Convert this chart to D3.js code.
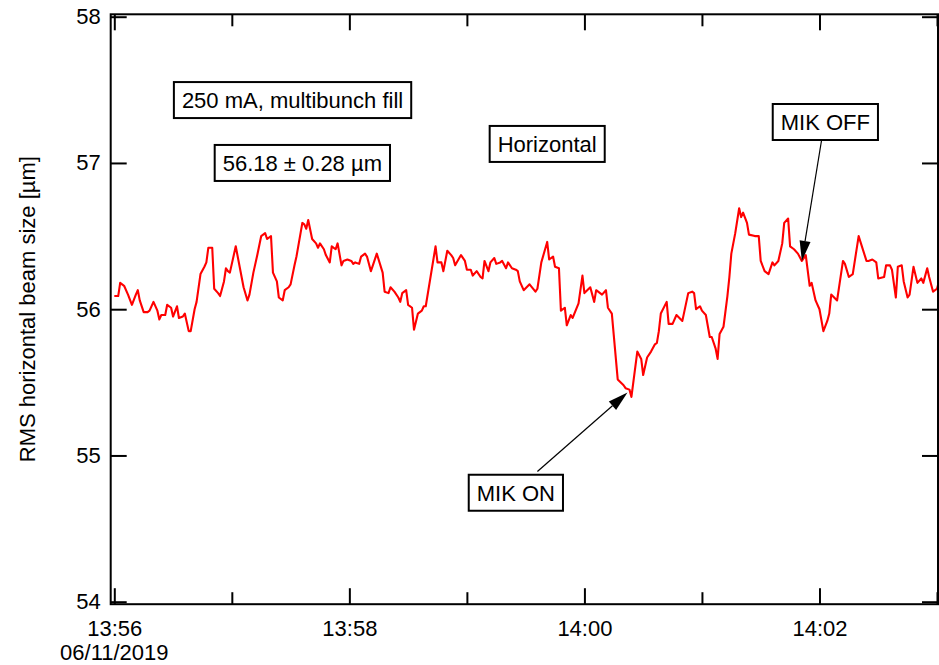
<!DOCTYPE html>
<html>
<head>
<meta charset="utf-8">
<script src="https://cdn.jsdelivr.net/npm/d3@7"></script>
<style>
  body { margin: 0; background: #fff; }
  svg text { font-family: "Liberation Sans", Arial, sans-serif; fill: #000; }
</style>
</head>
<body>
<svg id="chart" width="939" height="665"></svg>
<script>
// Beam size samples: seconds after 13:56:00 on 06/11/2019, RMS size in µm
const secs = [0,2,3,5,7,9,11,12,13,15,17,18,20,22,23,24,26,27,29,30,32,33,35,36,38,39,41,42,44,46,47,48,50,51,53,54,55,56,57,58,59,62,66,68,69,71,73,75,77,78,80,81,83,84,86,87,89,90,92,93,96,97,98,99,101,103,104,105,107,108,110,111,113,114,116,117,119,121,122,123,125,126,128,129,131,132,134,137,138,140,141,143,145,146,147,149,150,152,153,155,157,158,159,164,165,167,168,170,172,173,174,177,179,180,182,183,185,187,188,189,191,192,194,195,197,198,200,201,203,205,206,207,209,212,215,216,218,221,222,224,225,227,228,230,231,233,234,237,239,240,243,245,246,249,251,252,254,257,260,261,263,264,267,269,270,272,274,276,277,278,279,282,283,285,287,290,293,295,296,297,299,300,302,304,305,307,308,309,311,313,314,315,317,319,320,321,323,324,327,329,330,332,334,336,337,339,341,342,344,345,347,349,351,353,355,356,358,360,362,364,365,366,369,372,373,375,377,380,384,385,387,389,390,393,394,396,397,399,400,402,403,405,406,408,410,412,413,415,416,418,420,421];
const sizes = [56.09,56.09,56.18,56.16,56.10,56.03,56.10,56.13,56.06,55.98,55.98,55.99,56.05,55.99,55.93,55.96,55.96,56.03,56.01,55.95,56.02,55.94,55.95,55.97,55.85,55.85,56.00,56.05,56.24,56.29,56.32,56.42,56.42,56.14,56.11,56.09,56.14,56.19,56.28,56.26,56.25,56.43,56.15,56.06,56.10,56.25,56.37,56.50,56.52,56.48,56.50,56.25,56.19,56.08,56.06,56.13,56.15,56.17,56.30,56.36,56.59,56.58,56.55,56.61,56.48,56.45,56.42,56.45,56.41,56.37,56.32,56.43,56.41,56.45,56.30,56.33,56.34,56.33,56.31,56.32,56.31,56.36,56.38,56.36,56.26,56.30,56.38,56.25,56.12,56.11,56.15,56.12,56.08,56.05,56.11,56.13,56.03,56.01,55.86,55.97,55.99,56.02,56.02,56.43,56.32,56.32,56.26,56.40,56.37,56.35,56.30,56.37,56.33,56.27,56.27,56.23,56.26,56.22,56.21,56.33,56.26,56.32,56.35,56.31,56.32,56.33,56.28,56.32,56.28,56.27,56.26,56.19,56.13,56.17,56.12,56.14,56.32,56.46,56.34,56.36,56.29,56.28,55.99,56.01,55.89,55.96,55.94,56.04,56.23,56.11,56.15,56.05,56.13,56.10,56.13,56.01,55.97,55.52,55.48,55.46,55.45,55.40,55.71,55.66,55.55,55.67,55.71,55.76,55.77,55.85,55.97,56.05,55.90,55.90,55.96,55.92,56.11,56.12,56.11,56.00,56.02,55.99,55.96,55.81,55.81,55.73,55.66,55.83,55.88,56.09,56.22,56.38,56.52,56.69,56.63,56.66,56.59,56.51,56.50,56.50,56.33,56.26,56.24,56.32,56.30,56.33,56.45,56.59,56.62,56.43,56.41,56.38,56.33,56.37,56.16,56.18,56.06,56.00,55.85,55.92,55.97,56.10,56.06,56.33,56.31,56.22,56.24,56.50,56.33,56.33,56.34,56.32,56.21,56.22,56.30,56.30,56.27,56.08,56.29,56.30,56.19,56.08,56.10,56.29,56.18,56.21,56.18,56.28,56.22,56.12,56.14,56.19];

const yTicks = [54, 55, 56, 57, 58];
const yTitle = "RMS horizontal beam size [µm]";
const dateLabel = "06/11/2019";

// Text boxes (centre given in data coordinates: seconds, µm)
const noteTexts = ["250 mA, multibunch fill", "56.18 ± 0.28 µm", "Horizontal", "MIK OFF", "MIK ON"];
const noteSecs  = [91, 96, 221, 363, 205];
const noteVals  = [57.43, 57.0, 57.13, 57.28, 54.745];

// Arrows: start point and tip in data coordinates
const arrowFromSecs = [361, 216];
const arrowFromVals = [57.15, 54.89];
const arrowToSecs   = [351, 262];
const arrowToVals   = [56.33, 55.43];

const frame = { left: 110.7, right: 938, top: 14.3, bottom: 604.2 };
const fontSize = 22;

const t0 = new Date(2019, 5, 11, 13, 56, 0);
const toTime = s => d3.timeSecond.offset(t0, s);
const data = secs.map((s, i) => ({ t: toTime(s), v: sizes[i] }));

const x = d3.scaleTime().domain([t0, toTime(420)]).range([114.3, 937]);
const y = d3.scaleLinear().domain([54, 58]).range([601.7, 16.7]);

const svg = d3.select("#chart");

svg.append("defs").append("clipPath").attr("id", "plotClip")
  .append("rect")
  .attr("x", frame.left).attr("y", frame.top)
  .attr("width", frame.right - frame.left).attr("height", frame.bottom - frame.top);

// Trace
svg.append("path")
  .datum(data)
  .attr("clip-path", "url(#plotClip)")
  .attr("fill", "none")
  .attr("stroke", "#ff0000")
  .attr("stroke-width", 2.1)
  .attr("stroke-linejoin", "round")
  .attr("d", d3.line().x(d => x(d.t)).y(d => y(d.v)));

// Axes with inward ticks on all four sides
function styleAxis(g) {
  g.select(".domain").remove();
  g.selectAll(".tick line").attr("stroke", "#000").attr("stroke-width", 2);
  g.selectAll(".tick text").attr("font-size", fontSize).attr("fill", "#000")
    .attr("font-family", "'Liberation Sans', Arial, sans-serif");
}

svg.append("g")
  .attr("transform", `translate(${frame.left},0)`)
  .call(d3.axisLeft(y).tickValues(yTicks).tickSize(-16).tickPadding(10).tickFormat(d3.format("d")))
  .call(styleAxis);

svg.append("g")
  .attr("transform", `translate(${frame.right},0)`)
  .call(d3.axisRight(y).tickValues(yTicks).tickSize(-16).tickFormat(""))
  .call(styleAxis);

const majorTimes = d3.timeMinute.every(2).range(t0, toTime(421));
const minorTimes = d3.timeMinute.every(1).range(t0, toTime(421)).filter(t => t.getMinutes() % 2 === 1);

svg.append("g")
  .attr("transform", `translate(0,${frame.bottom})`)
  .call(d3.axisBottom(x).tickValues(majorTimes).tickSize(-16).tickPadding(16)
    .tickFormat(d3.timeFormat("%H:%M")))
  .call(styleAxis);
svg.append("g")
  .attr("transform", `translate(0,${frame.bottom})`)
  .call(d3.axisBottom(x).tickValues(minorTimes).tickSize(-12).tickFormat(""))
  .call(styleAxis);
svg.append("g")
  .attr("transform", `translate(0,${frame.top})`)
  .call(d3.axisTop(x).tickValues(majorTimes).tickSize(-16).tickFormat(""))
  .call(styleAxis);
svg.append("g")
  .attr("transform", `translate(0,${frame.top})`)
  .call(d3.axisTop(x).tickValues(minorTimes).tickSize(-12).tickFormat(""))
  .call(styleAxis);

// Frame
svg.append("rect")
  .attr("x", frame.left).attr("y", frame.top)
  .attr("width", frame.right - frame.left).attr("height", frame.bottom - frame.top)
  .attr("fill", "none").attr("stroke", "#000").attr("stroke-width", 2);

// Date under the first time label
svg.append("text")
  .attr("x", x(t0)).attr("y", 660)
  .attr("text-anchor", "middle")
  .attr("font-size", fontSize)
  .text(dateLabel);

// Y axis title
svg.append("text")
  .attr("transform", `translate(27,${(y(54) + y(58)) / 2}) rotate(-90)`)
  .attr("text-anchor", "middle")
  .attr("dy", "0.35em")
  .attr("font-size", fontSize)
  .text(yTitle);

// Arrows
const arrowG = svg.append("g");
arrowFromSecs.forEach((s, i) => {
  const x1 = x(toTime(s)), y1 = y(arrowFromVals[i]);
  const x2 = x(toTime(arrowToSecs[i])), y2 = y(arrowToVals[i]);
  const ang = Math.atan2(y2 - y1, x2 - x1);
  const headLen = 20, headHalf = 5.5;
  const bx = x2 - headLen * Math.cos(ang), by = y2 - headLen * Math.sin(ang);
  arrowG.append("line")
    .attr("x1", x1).attr("y1", y1).attr("x2", bx).attr("y2", by)
    .attr("stroke", "#000").attr("stroke-width", 1.2);
  const px = -Math.sin(ang), py = Math.cos(ang);
  arrowG.append("path")
    .attr("d", `M${x2},${y2}L${bx + px * headHalf},${by + py * headHalf}L${bx - px * headHalf},${by - py * headHalf}Z`)
    .attr("fill", "#000");
});

// Labelled boxes
noteTexts.forEach((txt, i) => {
  const cx = x(toTime(noteSecs[i])), cy = y(noteVals[i]);
  const g = svg.append("g");
  const t = g.append("text")
    .attr("x", cx).attr("y", cy)
    .attr("text-anchor", "middle")
    .attr("dy", "0.36em")
    .attr("font-size", fontSize)
    .text(txt);
  const bb = t.node().getBBox();
  const padX = 8, boxH = 36;
  g.insert("rect", "text")
    .attr("x", bb.x - padX).attr("y", cy - boxH / 2)
    .attr("width", bb.width + 2 * padX).attr("height", boxH)
    .attr("fill", "#fff").attr("stroke", "#000").attr("stroke-width", 2);
});
</script>
</body>
</html>
